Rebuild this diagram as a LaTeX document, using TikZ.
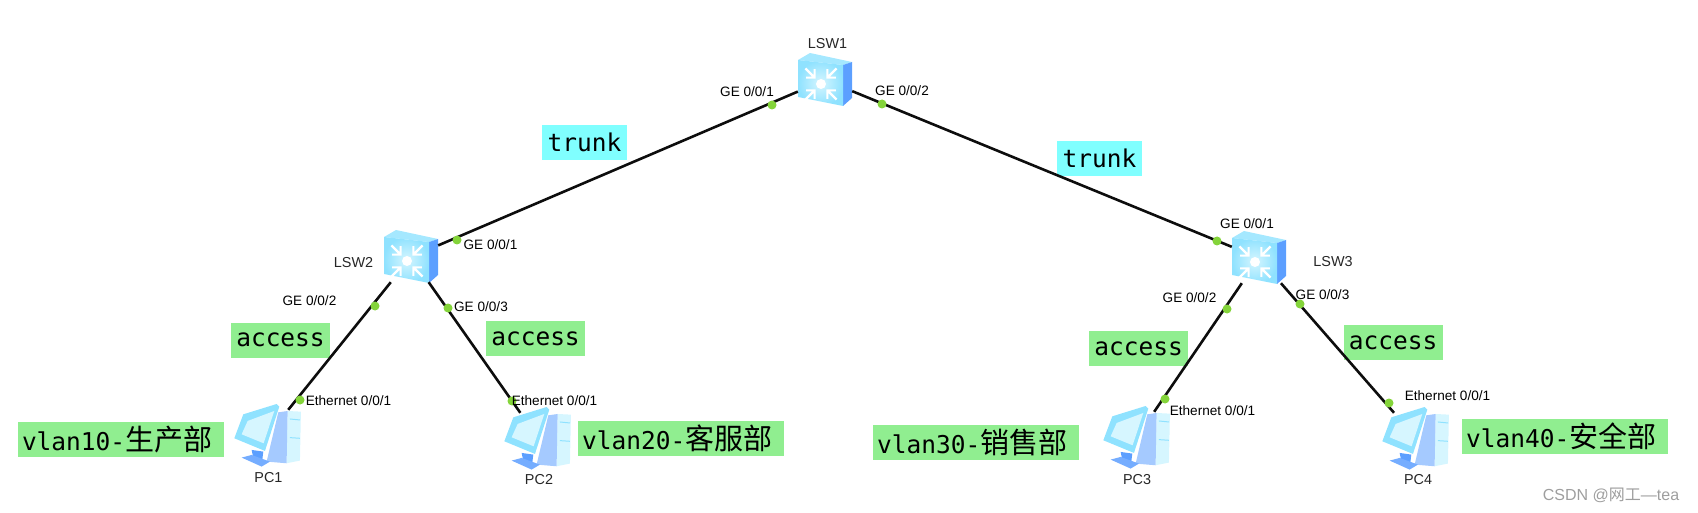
\documentclass[tikz,border=0pt]{standalone}
\usepackage{fontspec}
\setmainfont{Liberation Sans}
\newfontfamily\cjk{Noto Sans CJK SC}
\newfontfamily\monofont{DejaVu Sans Mono}
\usepackage{xcolor}
\usepackage{tikz}
\usetikzlibrary{calc, positioning}

\definecolor{boxgreen}{HTML}{90EE90}
\definecolor{boxcyan}{HTML}{80FFFF}
\definecolor{portgreen}{HTML}{84D43A}
\definecolor{iconblue}{HTML}{5C9FFF}
\definecolor{iconsky}{HTML}{8FE2FF}
\definecolor{iconpale}{HTML}{D6F6FF}

\newcommand{\tagtext}[1]{{\monofont\fontsize{24.5}{28}\selectfont #1}}
\newcommand{\vlantext}[2]{{\monofont\fontsize{24.5}{28}\selectfont #1}{\cjk\fontsize{29}{28}\selectfont #2}}

\tikzset{
    devnode/.style={inner sep=0, minimum width=54pt, minimum height=50pt},
    wire/.style={black!95, line width=2.6pt},
    portdot/.style={circle, fill=portgreen, inner sep=0, minimum size=9pt},
    devlabel/.style={inner sep=0, font=\fontsize{13.6}{15}\selectfont, text=black},
    namelabel/.style={inner sep=0, font=\fontsize{14.4}{15}\selectfont, text=black!85},
    modebox/.style={inner sep=0, minimum width=99pt, minimum height=35pt, fill=boxgreen},
    trunkbox/.style={inner sep=0, minimum width=85pt, minimum height=35pt, fill=boxcyan},
    vlanbox/.style={inner xsep=4pt, inner ysep=0, text width=198pt, align=left, minimum height=35pt, fill=boxgreen},
    lswicon/.pic={
        \fill[iconsky!80!white] (-27,-20) -- (-15,-27) -- (27,-18) -- (18,-15) -- cycle;
        \fill[iconblue] (18,-15) -- (27,-18) -- (27,18) -- (18,26) -- cycle;
        \shade[inner color=iconpale, outer color=iconsky] (-27,-20) -- (18,-15) -- (18,26) -- (-27,17) -- cycle;
        \fill[white] (-4,4) circle (5);
        \foreach \a in {45,135,225,315} {
            \draw[white, line width=2.2pt, shift={(-4,4)}, rotate=\a] (22,0) -- (9,0) (15,-6) -- (9,0) -- (15,6);
        }
    },
    pcicon/.pic={
        \begin{scope}[shift={(-43,-40)}, scale=0.333]
            \fill[iconpale] (188,48) -- (228,50) -- (225,197) -- (185,205) -- cycle;
            \fill[iconblue!55!white] (160,52) -- (188,48) -- (185,205) -- (125,200) -- cycle;
            \fill[iconblue] (80,165) -- (115,170) -- (112,195) -- (85,190) -- cycle;
            \fill[iconblue!85!white] (50,188) -- (80,180) -- (135,200) -- (110,215) -- cycle;
            \fill[iconsky] (55,58) -- (155,27) -- (163,35) -- (120,168) -- (28,130) -- cycle;
            \fill[iconpale] (68,78) -- (148,48) -- (116,145) -- (50,118) -- cycle;
            \draw[iconsky, line width=1pt] (195,72) -- (225,75) (195,128) -- (225,130);
        \end{scope}
    }
}

\begin{document}
\begin{tikzpicture}[x=1pt, y=-1pt]
    \useasboundingbox (0,0) rectangle (1698,513);

    % 1. Switches and PCs
    \node[devnode] (lsw1) at (825,80) {};
    \node[devnode] (lsw2) at (411,257) {};
    \node[devnode] (lsw3) at (1259,258) {};
    \node[devnode] (pc1) at (268,435) {};
    \node[devnode] (pc2) at (538,438) {};
    \node[devnode] (pc3) at (1137,437) {};
    \node[devnode] (pc4) at (1416,438) {};
    \foreach \dev in {lsw1,lsw2,lsw3} {
        \pic at (\dev) {lswicon};
    }
    \foreach \dev in {pc1,pc2,pc3,pc4} {
        \pic at (\dev) {pcicon};
    }

    % 2. Colour boxes
    \node[trunkbox] (trunkl) at (584.5,142.5) {\tagtext{trunk}};
    \node[trunkbox] (trunkr) at (1099.5,158.5) {\tagtext{trunk}};
    \node[modebox] (acc1) at (280.5,340) {\tagtext{access}};
    \node[modebox] (acc2) at (535.5,338.5) {\tagtext{access}};
    \node[modebox] (acc3) at (1138.5,348.5) {\tagtext{access}};
    \node[modebox] (acc4) at (1393,342.5) {\tagtext{access}};
    \node[vlanbox] (vlan10) at (121,439.5) {\vlantext{vlan10-}{生产部}};
    \node[vlanbox] (vlan20) at (681,438.5) {\vlantext{vlan20-}{客服部}};
    \node[vlanbox] (vlan30) at (976,442.5) {\vlantext{vlan30-}{销售部}};
    \node[vlanbox] (vlan40) at (1565,436) {\vlantext{vlan40-}{安全部}};

    % 3. Links
    \draw[wire] (lsw1) -- (lsw2);
    \draw[wire] (lsw1) -- (lsw3);
    \draw[wire] (lsw2) -- (pc1);
    \draw[wire] (lsw2) -- (pc2);
    \draw[wire] (lsw3) -- (pc3);
    \draw[wire] (lsw3) -- (pc4);

    % 4. Port dots
    \node[portdot] (p1) at (772,105) {};
    \node[portdot] (p2) at (882,104) {};
    \node[portdot] (p3) at (457,240) {};
    \node[portdot] (p4) at (375,306) {};
    \node[portdot] (p5) at (448,308) {};
    \node[portdot] (p6) at (1217,241) {};
    \node[portdot] (p7) at (1227,309) {};
    \node[portdot] (p8) at (1300,304) {};
    \node[portdot] (p9) at (300,400) {};
    \node[portdot] (p10) at (512,401) {};
    \node[portdot] (p11) at (1165,399) {};
    \node[portdot] (p12) at (1389,403) {};

    % 5. Labels
    \node[namelabel] (lsw1name) at (827.5,44) {LSW1};
    \node[namelabel] (lsw2name) at (353.5,263) {LSW2};
    \node[namelabel] (lsw3name) at (1333,262) {LSW3};
    \node[namelabel] (pc1name) at (268.5,478) {PC1};
    \node[namelabel] (pc2name) at (539,480) {PC2};
    \node[namelabel] (pc3name) at (1137,480) {PC3};
    \node[namelabel] (pc4name) at (1418,480) {PC4};
    \node[devlabel] (l1) at (747,92) {GE 0/0/1};
    \node[devlabel] (l2) at (902,91) {GE 0/0/2};
    \node[devlabel] (l3) at (490.5,245) {GE 0/0/1};
    \node[devlabel] (l4) at (309.5,301) {GE 0/0/2};
    \node[devlabel] (l5) at (481,307) {GE 0/0/3};
    \node[devlabel] (l6) at (1247,224) {GE 0/0/1};
    \node[devlabel] (l7) at (1189.5,298) {GE 0/0/2};
    \node[devlabel] (l8) at (1322.5,295) {GE 0/0/3};
    \node[devlabel] (l9) at (348.5,401) {Ethernet 0/0/1};
    \node[devlabel] (l10) at (554.5,401) {Ethernet 0/0/1};
    \node[devlabel] (l11) at (1212.5,411) {Ethernet 0/0/1};
    \node[devlabel] (l12) at (1447.5,396) {Ethernet 0/0/1};

    % 6. Watermark
    \node[inner sep=0, text=black!38, font=\fontsize{16}{18}\selectfont] (mark) at (1611,495) {CSDN @{\cjk 网工}—tea};
\end{tikzpicture}
\end{document}
